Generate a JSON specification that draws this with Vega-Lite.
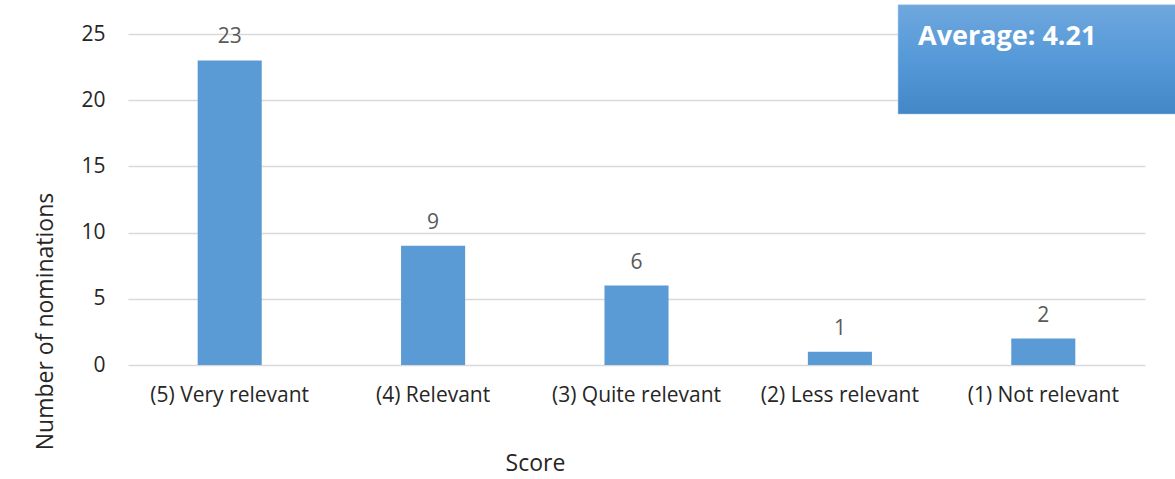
{
  "$schema": "https://vega.github.io/schema/vega-lite/v6.json",
  "width": 1017,
  "height": 331,
  "autosize": {"type": "none"},
  "padding": {"left": 128, "top": 34, "right": 30, "bottom": 114},
  "background": "white",
  "config": {
    "font": "Open Sans",
    "view": {"stroke": null}
  },
  "layer": [
    {
      "data": {
        "values": [
          {"score": "(5) Very relevant", "count": 23},
          {"score": "(4) Relevant", "count": 9},
          {"score": "(3) Quite relevant", "count": 6},
          {"score": "(2) Less relevant", "count": 1},
          {"score": "(1) Not relevant", "count": 2}
        ]
      },
      "encoding": {
        "x": {
          "field": "score",
          "type": "nominal",
          "sort": null,
          "scale": {"paddingInner": 0.685, "paddingOuter": 0.3425},
          "axis": {
            "title": "Score",
            "labelAngle": 0,
            "labelFontSize": 21,
            "labelColor": "#262626",
            "labelPadding": 19,
            "ticks": false,
            "domain": false,
            "titleFontSize": 23,
            "titleFontWeight": "normal",
            "titleColor": "#262626",
            "titleX": 407,
            "titleY": 98,
            "titleBaseline": "middle",
            "titleAlign": "center"
          }
        },
        "y": {
          "field": "count",
          "type": "quantitative",
          "scale": {"domain": [0, 25], "nice": false},
          "axis": {
            "title": "Number of nominations",
            "values": [0, 5, 10, 15, 20, 25],
            "labelFontSize": 21,
            "labelColor": "#262626",
            "labelPadding": 23,
            "ticks": false,
            "domain": false,
            "gridColor": "#D9D9D9",
            "gridWidth": 1.3,
            "titleFontSize": 23,
            "titleFontWeight": "normal",
            "titleColor": "#262626",
            "titleAngle": -90,
            "titleX": -83,
            "titleY": 287,
            "titleAlign": "center",
            "titleBaseline": "middle"
          }
        }
      },
      "layer": [
        {"mark": {"type": "bar", "color": "#5B9BD5"}},
        {
          "mark": {"type": "text", "fontSize": 21, "color": "#595959", "baseline": "alphabetic", "dy": -17},
          "encoding": {"text": {"field": "count", "type": "quantitative"}}
        }
      ]
    },
    {
      "data": {"values": [{"label": "Average: 4.21"}]},
      "layer": [
        {
          "mark": {
            "type": "rect",
            "clip": false,
            "stroke": "#9DC3E6",
            "strokeWidth": 0.5,
            "color": {
              "gradient": "linear",
              "x1": 0, "y1": 0, "x2": 0, "y2": 1,
              "stops": [
                {"offset": 0, "color": "#6FA7DE"},
                {"offset": 0.5, "color": "#5599D8"},
                {"offset": 1, "color": "#4387C6"}
              ]
            }
          },
          "encoding": {
            "x": {"datum": 3.786, "type": "quantitative", "scale": {"domain": [0, 5], "nice": false, "zero": false}, "axis": null},
            "x2": {"datum": 5.2},
            "y": {"datum": 27.2, "type": "quantitative"},
            "y2": {"datum": 18.96}
          }
        },
        {
          "mark": {"type": "text", "clip": false, "align": "left", "baseline": "middle", "fontSize": 27, "fontWeight": "bold", "color": "white"},
          "encoding": {
            "x": {"datum": 3.884, "type": "quantitative", "scale": {"domain": [0, 5], "nice": false, "zero": false}, "axis": null},
            "y": {"datum": 24.75, "type": "quantitative"},
            "text": {"field": "label"}
          }
        }
      ]
    }
  ],
  "resolve": {"scale": {"x": "independent"}}
}
